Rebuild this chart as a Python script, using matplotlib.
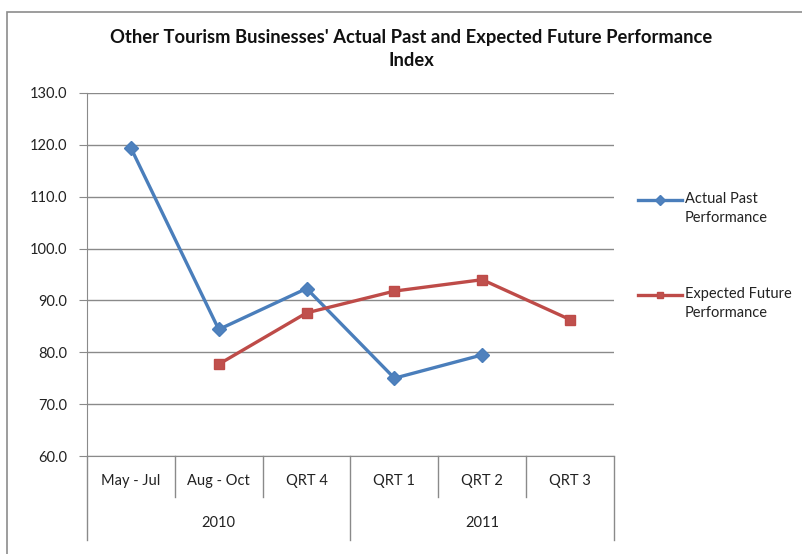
import matplotlib
matplotlib.use("Agg")
import matplotlib.pyplot as plt
import matplotlib.transforms as mtransforms
from matplotlib.lines import Line2D
from matplotlib.patches import Rectangle
import numpy as np

categories = ["May - Jul", "Aug - Oct", "QRT 4", "QRT 1", "QRT 2", "QRT 3"]
years = ["2010", "2011"]
year_spans = [(0, 3), (3, 6)]  # category index ranges per year
actual_past = [119.4, 84.4, 92.3, 75.0, 79.5, np.nan]
expected_future = [np.nan, 77.7, 87.6, 91.8, 94.0, 86.3]
series_names = ["Actual Past\nPerformance", "Expected Future\nPerformance"]
y_ticks = [60, 70, 80, 90, 100, 110, 120, 130]

plt.rcParams['font.family'] = ['Lato', 'DejaVu Sans']

W, H = 803, 554
fig = plt.figure(figsize=(W / 100, H / 100), dpi=100)
fig.patch.set_facecolor("white")

# chart frame
fig.add_artist(Rectangle((7 / W, -0.1), 1.2, 1 - 12 / H + 0.1, transform=fig.transFigure,
                         fill=False, edgecolor="#8c8c8c", linewidth=1.2))

ax = fig.add_axes([87 / W, 1 - 456 / H, (614 - 87) / W, (456 - 93) / H])
x = np.arange(len(categories))

grid_c = "#8a8a8a"
text_c = "#222222"
fs = 10.5
ax.set_ylim(60, 130)
ax.set_xlim(-0.5, len(categories) - 0.5)
ax.set_yticks(y_ticks)
ax.set_yticklabels([f"{v:.1f}" for v in y_ticks], fontsize=fs, color=text_c)
ax.yaxis.grid(True, color=grid_c, linewidth=1)
ax.set_axisbelow(True)
ax.tick_params(axis="y", length=6, color=grid_c, pad=8)
ax.set_xticks([])
for s in ["top", "right"]:
    ax.spines[s].set_visible(False)
ax.spines["left"].set_color(grid_c)
ax.spines["bottom"].set_color(grid_c)

blue = "#4a7ebb"
red = "#be4b48"
styles = [
    dict(color=blue, marker="D", markerfacecolor="#4f81bd", markeredgecolor=blue),
    dict(color=red, marker="s", markerfacecolor="#c0504d", markeredgecolor=red),
]
for vals, st in zip([actual_past, expected_future], styles):
    ax.plot(x, vals, linewidth=2.4, markersize=7.5, **st)

# multi-level category axis
btrans = mtransforms.blended_transform_factory(ax.transData, fig.transFigure)
y_axis = 1 - 456 / H
for i in range(len(categories) + 1):
    xv = i - 0.5
    is_year = any(i == a or i == b for a, b in year_spans)
    depth = 84 if is_year else 41
    ax.add_line(Line2D([xv, xv], [y_axis, 1 - (456 + depth) / H], transform=btrans,
                       color=grid_c, linewidth=1, clip_on=False))

for xi, lab in zip(x, categories):
    ax.text(xi, 1 - 481 / H, lab, transform=btrans, ha="center", va="center",
            fontsize=fs, color=text_c)
for (a, b), yr in zip(year_spans, years):
    ax.text((a + b - 1) / 2, 1 - 523 / H, yr, transform=btrans, ha="center", va="center",
            fontsize=fs, color=text_c)

fig.text(411 / W, 1 - 38 / H, "Other Tourism Businesses' Actual Past and Expected Future Performance",
         ha="center", va="center", fontsize=13.2, fontweight="bold", color="#111111")
fig.text(411 / W, 1 - 60 / H, "Index", ha="center", va="center", fontsize=13.2,
         fontweight="bold", color="#111111")

# legend keys with the marker on the first text line
for name, st, ly in zip(series_names, styles, [200, 295]):
    yf = 1 - ly / H
    fig.add_artist(Line2D([638 / W, 682 / W], [yf, yf], transform=fig.transFigure,
                          color=st["color"], linewidth=2.4))
    fig.add_artist(Line2D([660 / W], [yf], transform=fig.transFigure, linestyle="none",
                          marker=st["marker"], markersize=5, markerfacecolor=st["markerfacecolor"],
                          markeredgecolor=st["markeredgecolor"]))
    fig.text(685 / W, 1 - (ly - 8) / H, name, ha="left", va="top", fontsize=fs,
             color=text_c, linespacing=1.45)

fig.savefig("out.png", dpi=100)
